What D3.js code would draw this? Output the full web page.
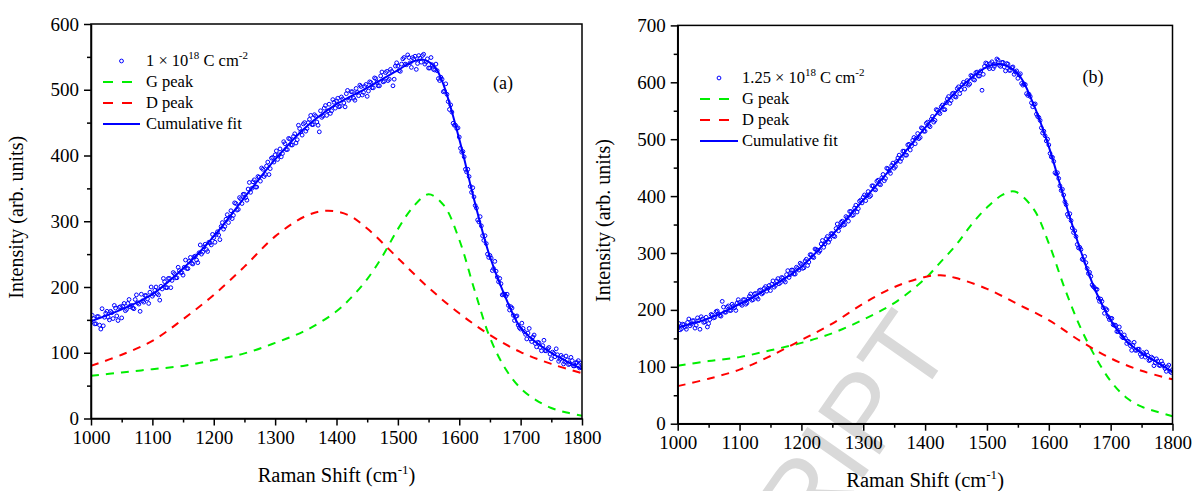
<!DOCTYPE html>
<html><head><meta charset="utf-8">
<script src="https://cdn.jsdelivr.net/npm/d3@7"></script>
<style>
body{margin:0;background:#fff}
svg{display:block}
</style>
</head><body>
<svg id="chart" width="1193" height="491"></svg>
<script>
// ---------- data ----------
const xTickValues = [1000,1100,1200,1300,1400,1500,1600,1700,1800];
const yTicksA = [0,100,200,300,400,500,600];
const yTicksB = [0,100,200,300,400,500,600,700];

// measured points, sampled every 4 cm-1 (two interleaved grids)
const scatterX  = d3.range(1000, 1801, 4);
const scatterX2 = d3.range(1002, 1799, 4);

const scatterA = [
 146,152,144,155,136,141,160,154,163,152,168,149,170,
 171,164,175,170,168,181,176,163,179,187,182,192,
 186,195,190,180,197,208,199,213,210,220,214,225,222,
 230,228,239,236,246,241,252,250,261,257,268,264,
 275,280,279,292,288,303,298,316,309,327,318,334,341,
 336,349,344,360,352,368,361,379,371,390,380,397,
 401,394,410,403,418,409,425,416,433,424,441,431,450,
 441,455,447,462,451,436,458,472,461,478,468,481,
 483,474,489,480,494,484,497,487,502,491,505,496,508,
 498,511,503,517,506,521,512,526,514,531,506,536,
 536,528,547,539,553,541,549,
 551,540,548,552,
 539,547,533,538,530,
 529,514,516,
 498,493,470,466,446,441,
 428,405,398,375,368,344,337,
 320,299,293,271,266,245,
 244,228,224,208,205,189,
 186,172,170,157,155,142,
 136,137,128,130,121,124,114,
 116,108,111,103,106,98,
 101,94,97,90,93,86,
 89,83,88,80,85,77,82
];
const scatterA2 = [
 157,144,155,142,167,154,163,150,161,172,
 156,169,153,175,166,181,172,167,188,174,
 189,177,187,175,200,189,200,188,201,213,
 199,213,199,222,214,230,222,218,241,228,
 245,235,247,237,264,253,265,254,267,280,
 268,284,272,298,292,310,306,304,328,317,
 336,327,341,332,359,350,363,352,367,381,
 368,384,371,396,390,407,401,398,421,409,
 426,416,429,419,446,436,448,437,450,461,
 447,460,446,468,460,476,468,464,485,472,
 487,475,486,474,499,487,497,484,496,507,
 492,505,490,512,503,518,511,506,527,513,
 528,516,528,516,541,529,539,549,538,549,
 534,547,531,552,542,554,542,533,549,531,
 539,517,519,497,509,482,477,449,446,442,
 411,406,379,379,353,351,324,302,307,278,
 278,250,248,225,239,215,213,188,189,189,
 165,168,149,156,138,145,132,121,137,117,
 127,109,115,103,119,103,108,91,99,106,
 87,96,83,95,82,93,80,85,88,84
];

const scatterB = [
 172,165,175,170,178,172,181,168,186,166,184,179,170,
 183,191,187,198,190,215,196,205,199,210,204,212,
 213,208,218,212,224,217,228,222,234,228,238,233,243,
 245,240,251,246,257,252,262,257,270,263,275,270,
 280,274,289,284,297,292,306,301,316,310,325,319,334,
 330,343,339,354,349,364,356,373,367,384,378,393,
 398,392,408,401,418,411,428,420,438,431,448,440,458,
 452,467,461,479,472,490,481,498,492,510,503,519,
 514,530,522,540,533,551,545,560,552,571,563,580,575,
 589,580,596,588,603,597,611,604,618,611,586,628,
 633,624,636,628,641,630,635,
 627,633,621,626,614,620,
 613,598,597,580,579,564,
 561,544,538,520,514,497,
 490,469,461,439,431,410,402,
 385,364,357,336,329,309,
 306,288,283,264,259,241,
 236,221,219,204,202,188,
 185,174,173,162,161,151,150,
 145,137,138,129,131,122,
 125,117,120,112,115,107,
 110,102,105,97,100,92,95
];
const scatterB2 = [
 176,167,174,166,184,175,181,173,181,188,
 178,187,176,192,186,197,193,189,205,196,
 207,199,207,199,218,210,218,210,219,228,
 218,229,219,235,230,241,238,234,251,243,
 255,248,256,249,269,262,270,263,273,282,
 273,286,278,297,293,307,305,304,322,316,
 329,324,334,329,351,346,356,350,362,373,
 366,379,372,391,388,402,401,399,418,412,
 426,421,432,427,449,444,454,449,461,472,
 466,479,472,491,488,503,502,501,520,514,
 528,524,535,530,552,547,557,552,564,575,
 568,581,574,592,587,600,597,595,612,605,
 617,611,620,614,634,627,633,624,632,639,
 628,635,620,632,621,627,618,607,615,595,
 596,577,575,557,562,540,533,511,506,500,
 475,468,441,441,418,412,390,368,369,344,
 339,315,310,289,294,273,266,244,239,236,
 215,215,194,200,183,185,173,162,170,153,
 156,141,143,129,143,129,131,118,123,126,
 111,117,102,114,103,110,101,92,103,90
];

// panel (a) fitted curves
const gPeakAX = [1000,1050,1100,1150,1200,1250,1300,1350,1400,1425,1450,1475,1500,1525,1550,1575,1600,1625,1650,1675,1700,1725,1750,1775,1800];
const gPeakA  = [65,70,75,80,89,99,115,134,163,185,212,247,288,322,341,324,272,195,123,76,46,28,16,9,4];
const dPeakAX = [1000,1050,1100,1150,1200,1250,1300,1350,1385,1420,1450,1500,1550,1600,1650,1700,1750,1800];
const dPeakA  = [80,97,118,151,188,231,277,308,316,309,289,244,199,160,127,101,83,69];
const fitAX   = [1000,1050,1100,1150,1200,1250,1300,1350,1400,1450,1500,1525,1540,1560,1575,1600,1625,1650,1675,1700,1725,1750,1775,1800];
const fitA    = [148,166,189,228,277,336,394,443,478,503,530,543,546,535,506,425,330,246,185,138,116,100,87,75];

// panel (b) fitted curves
const gPeakBX = [1000,1050,1100,1150,1200,1250,1300,1350,1400,1425,1450,1475,1500,1525,1545,1575,1600,1625,1650,1675,1700,1725,1750,1775,1800];
const gPeakB  = [102,110,117,129,142,159,183,212,255,284,314,350,380,402,408,378,317,240,172,118,75,46,30,21,13];
const dPeakBX = [1000,1050,1100,1150,1200,1250,1300,1350,1400,1425,1450,1500,1550,1600,1650,1700,1750,1800];
const dPeakB  = [66,79,95,119,147,176,211,240,258,261,256,237,210,182,146,115,93,78];
const fitBX   = [1000,1050,1100,1150,1200,1250,1300,1350,1400,1450,1500,1520,1550,1575,1600,1625,1650,1675,1700,1725,1750,1775,1800];
const fitB    = [169,185,210,240,276,332,393,455,520,583,627,632,615,562,487,395,309,235,182,146,124,108,91];

const seriesNames = ["G peak","D peak","Cumulative fit"];
const panelLabels = ["(a)","(b)"];

// ---------- drawing ----------
const SERIF = '"Liberation Serif","Times New Roman","DejaVu Serif",serif';
const svg = d3.select("#chart");
const BLUE = "#0000ff", GREEN = "#00ee00", RED = "#ff0000";

function zip(xs, ys){ const n=Math.min(xs.length, ys.length); return d3.range(n).map(i=>[xs[i], ys[i]]); }
function txt(sel){ return sel.style("font-family", SERIF).style("fill", "#000"); }

// watermark
svg.append("text")
  .attr("transform","translate(812,551) rotate(-55)")
  .style("font-family",'"Liberation Sans",Arial,sans-serif')
  .style("font-size","109px").style("fill","#d9d9d9")
  .text("RIPT");

function panel(cfg){
  const x = d3.scaleLinear().domain([1000,1800]).range([cfg.left, cfg.right]);
  const y = d3.scaleLinear().domain([0, cfg.ymax]).range([cfg.bottom, cfg.top]);
  const g = svg.append("g");

  const clipId = "clip" + cfg.id;
  g.append("clipPath").attr("id", clipId).append("rect")
    .attr("x", cfg.left).attr("y", cfg.top)
    .attr("width", cfg.right-cfg.left).attr("height", cfg.bottom-cfg.top);
  const plot = g.append("g").attr("clip-path", `url(#${clipId})`);

  const line = d3.line().x(d=>x(d[0])).y(d=>y(d[1])).curve(d3.curveCatmullRom.alpha(0.5));

  plot.append("path").datum(zip(cfg.gX, cfg.g)).attr("d", line)
    .attr("fill","none").attr("stroke",GREEN).attr("stroke-width",2).attr("stroke-dasharray","8,7");
  plot.append("path").datum(zip(cfg.dX, cfg.d)).attr("d", line)
    .attr("fill","none").attr("stroke",RED).attr("stroke-width",2).attr("stroke-dasharray","8,7");

  const pts = zip(scatterX, cfg.scatter).concat(zip(scatterX2, cfg.scatter2));
  plot.append("g").selectAll("circle").data(pts).join("circle")
    .attr("cx", d=>x(d[0])).attr("cy", d=>y(d[1])).attr("r", 1.9)
    .attr("fill","none").attr("stroke",BLUE).attr("stroke-width",1);

  plot.append("path").datum(zip(cfg.fitX, cfg.fit)).attr("d", line)
    .attr("fill","none").attr("stroke",BLUE).attr("stroke-width",2);

  // axes
  const xAxis = d3.axisBottom(x).tickValues(xTickValues).tickSize(7).tickSizeOuter(0).tickPadding(5).tickFormat(d3.format("d"));
  const gx = g.append("g").attr("transform",`translate(0,${cfg.bottom})`).call(xAxis);
  const xMinor = d3.axisBottom(x).tickValues(d3.range(1050,1800,100)).tickSize(4).tickSizeOuter(0).tickFormat("");
  const gxm = g.append("g").attr("transform",`translate(0,${cfg.bottom})`).call(xMinor);
  gxm.select(".domain").remove();

  const yAxis = d3.axisLeft(y).tickValues(cfg.yTicks).tickSize(7).tickSizeOuter(0).tickPadding(5).tickFormat(d3.format("d"));
  const gy = g.append("g").attr("transform",`translate(${cfg.left},0)`).call(yAxis);
  const yMinor = d3.axisLeft(y).tickValues(d3.range(50, cfg.ymax, 100)).tickSize(4).tickSizeOuter(0).tickFormat("");
  const gym = g.append("g").attr("transform",`translate(${cfg.left},0)`).call(yMinor);
  gym.select(".domain").remove();

  [gx,gxm,gy,gym].forEach(a=>{
    a.selectAll("line").attr("stroke","#000").attr("stroke-width",1.5);
    a.selectAll("path").attr("stroke","#000").attr("stroke-width",1.5);
    txt(a.selectAll("text")).style("font-size","19px");
  });

  // frame
  g.append("rect").attr("x",cfg.left).attr("y",cfg.top)
    .attr("width",cfg.right-cfg.left).attr("height",cfg.bottom-cfg.top)
    .attr("fill","none").attr("stroke","#000").attr("stroke-width",1.5);

  // axis titles
  const xt = txt(g.append("text")).attr("x",(cfg.left+cfg.right)/2).attr("y",cfg.bottom+63)
    .attr("text-anchor","middle").style("font-size","20.5px");
  xt.append("tspan").text("Raman Shift (cm");
  xt.append("tspan").text("-1").style("font-size","13px").attr("dy",-8);
  xt.append("tspan").text(")").attr("dy",8);

  txt(g.append("text")).attr("transform",`translate(${cfg.left-68},${(cfg.top+cfg.bottom)/2 - 4}) rotate(-90)`)
    .attr("text-anchor","middle").style("font-size","20px").text("Intensity (arb. units)");

  // legend
  const L = cfg.legend;
  const rowH = 21;
  const lg = g.append("g");
  lg.append("circle").attr("cx",(L.x0+L.x1)/2).attr("cy",L.y).attr("r",1.9)
    .attr("fill","none").attr("stroke",BLUE).attr("stroke-width",1);
  const t0 = txt(lg.append("text")).attr("x",L.tx).attr("y",L.y+5).style("font-size","16.5px");
  t0.append("tspan").text(cfg.dose + " \u00d7 10");
  t0.append("tspan").text("18").style("font-size","11px").attr("dy",-7);
  t0.append("tspan").text(" C cm").attr("dy",7);
  t0.append("tspan").text("-2").style("font-size","11px").attr("dy",-7);
  const styles = [{c:GREEN,dash:"10,9"},{c:RED,dash:"10,9"},{c:BLUE,dash:null}];
  seriesNames.forEach((name,i)=>{
    const yy = L.y + rowH*(i+1);
    const ln = lg.append("line").attr("x1",L.x0).attr("x2",L.x1).attr("y1",yy).attr("y2",yy)
      .attr("stroke",styles[i].c).attr("stroke-width",2);
    if(styles[i].dash) ln.attr("stroke-dasharray",styles[i].dash);
    txt(lg.append("text")).attr("x",L.tx).attr("y",yy+5).style("font-size","16.5px").text(name);
  });

  txt(g.append("text")).attr("x",cfg.labelX).attr("y",cfg.labelY).attr("text-anchor","middle")
    .style("font-size","18px").text(cfg.label);
}

panel({id:"a", left:91, right:582, top:24, bottom:418.5, ymax:600, yTicks:yTicksA,
  scatter:scatterA, scatter2:scatterA2, gX:gPeakAX, g:gPeakA, dX:dPeakAX, d:dPeakA, fitX:fitAX, fit:fitA,
  legend:{x0:103, x1:140, tx:146, y:61}, dose:"1", label:panelLabels[0], labelX:503, labelY:89});

panel({id:"b", left:677.7, right:1172.5, top:25.4, bottom:423.7, ymax:700, yTicks:yTicksB,
  scatter:scatterB, scatter2:scatterB2, gX:gPeakBX, g:gPeakB, dX:dPeakBX, d:dPeakB, fitX:fitBX, fit:fitB,
  legend:{x0:700, x1:738, tx:742, y:78}, dose:"1.25", label:panelLabels[1], labelX:1093, labelY:83});
</script>
</body></html>
